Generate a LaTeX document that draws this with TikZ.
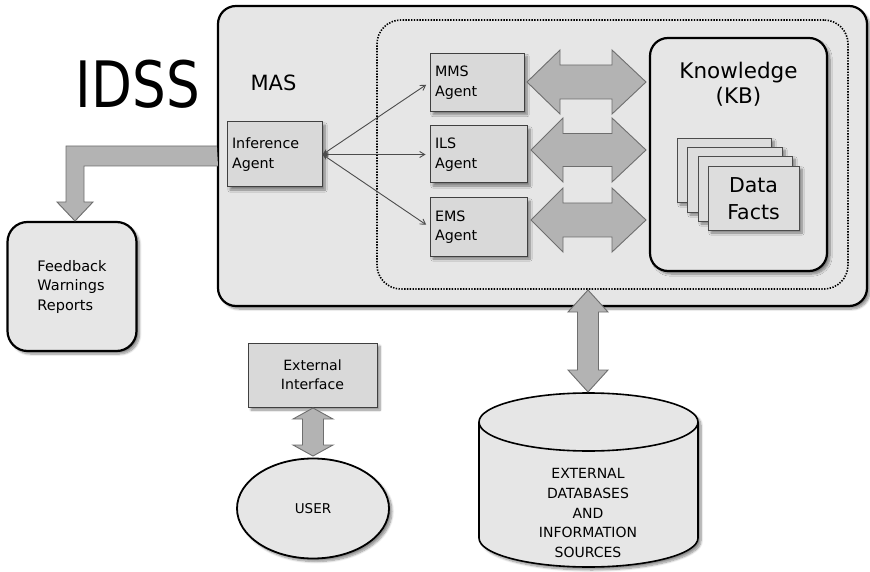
\documentclass[tikz,border=0pt]{standalone}
\usepackage{fontspec}
\setmainfont{DejaVu Sans}
\usepackage{graphicx}
\usetikzlibrary{arrows.meta,shadows.blur,shapes.geometric,calc}

\definecolor{masfill}{HTML}{E6E6E6}
\definecolor{boxfill}{HTML}{D9D9D9}
\definecolor{arrfill}{HTML}{B3B3B3}
\definecolor{arrline}{HTML}{6E6E6E}
\definecolor{pagefill}{HTML}{DDDDDD}

\tikzset{
  shadowed/.style={blur shadow={shadow xshift=3pt, shadow yshift=-3pt, shadow blur steps=8, shadow opacity=45}},
  bigbox/.style={draw=black, line width=2.2pt, rounded corners=18pt, fill=masfill, inner sep=0pt},
  agentbox/.style={draw=black!75, line width=1pt, fill=boxfill, align=left, inner xsep=5pt, inner ysep=0pt,
    font=\fontsize{14.3}{19.5}\selectfont, shadowed},
  fatarrow/.style={draw=arrline, line width=0.9pt, fill=arrfill},
  link/.style={draw=black!70, line width=0.9pt, {Stealth[length=6pt,width=5pt]}-{Straight Barb[length=5pt,width=6pt]}, shorten >=4pt},
  pagebox/.style={draw=black!70, line width=0.9pt, fill=pagefill, inner sep=0pt, shadowed},
  labeltext/.style={inner sep=0pt, align=center}
}

\newcommand\hdarrow[7]{% xtip1, xbase1, xbase2, xtip2, cy, head half, body half
  \draw[fatarrow] (#1,#5) -- (#2,#5-#6) -- (#2,#5-#7) -- (#3,#5-#7) -- (#3,#5-#6) -- (#4,#5)
    -- (#3,#5+#6) -- (#3,#5+#7) -- (#2,#5+#7) -- (#2,#5+#6) -- cycle;}
\newcommand\vdarrow[7]{% ytip1, ybase1, ybase2, ytip2, cx, head half, body half
  \draw[fatarrow] (#5,#1) -- (#5-#6,#2) -- (#5-#7,#2) -- (#5-#7,#3) -- (#5-#6,#3) -- (#5,#4)
    -- (#5+#6,#3) -- (#5+#7,#3) -- (#5+#7,#2) -- (#5+#6,#2) -- cycle;}

\begin{document}
\begin{tikzpicture}[x=1pt,y=-1pt]
\useasboundingbox (0,0) rectangle (870,572);

% IDSS title
\node (title) [inner sep=0pt] at (138,84) {\fontsize{64}{64}\selectfont\scalebox{0.83}[1]{IDSS}};

% MAS container
\node (mas) [bigbox, shadowed, minimum width=649pt, minimum height=300pt] at (542.5,156) {};
\node (mastext) [labeltext, font=\fontsize{21}{21}\selectfont] at (273.5,83) {MAS};

% dotted region
\node (region) [draw=black, line width=1.6pt, dash pattern=on 1.4pt off 1.4pt, rounded corners=24pt,
  minimum width=471pt, minimum height=269pt, inner sep=0pt] at (612.5,154.5) {};

% agents
\node (inf) [agentbox, text width=85pt, minimum height=65pt] at (274.5,154.5) {Inference\\Agent};
\node (mms) [agentbox, text width=84pt, minimum height=58pt] at (477,82.5) {MMS\\Agent};
\node (ils) [agentbox, text width=87pt, minimum height=57pt] at (478.5,154.5) {ILS\\Agent};
\node (ems) [agentbox, text width=87pt, minimum height=58pt] at (478.5,227) {EMS\\Agent};

\draw[link] (inf.east) -- (mms.west);
\draw[link] (inf.east) -- (ils.west);
\draw[link] (inf.east) -- (ems.west);

% knowledge base
\node (kb) [bigbox, shadowed, minimum width=177pt, minimum height=233pt] at (738.5,154.5) {};
\node (kbtext) [labeltext, font=\fontsize{21.5}{25}\selectfont] at (738.5,84.5) {Knowledge\\(KB)};

\node (p1) [pagebox, minimum width=94pt, minimum height=64pt] at (724,170) {};
\node (p2) [pagebox, minimum width=95pt, minimum height=65pt] at (734.5,179.5) {};
\node (p3) [pagebox, minimum width=94pt, minimum height=65pt] at (745,188.5) {};
\node (p4) [pagebox, minimum width=91pt, minimum height=64pt] at (753.5,198) {};
\node (facts) [labeltext, font=\fontsize{20.5}{27}\selectfont] at (753.5,198.5) {Data\\Facts};

% fat double arrows agent <-> KB
\hdarrow{527}{560}{612}{646}{82}{32}{17}
\hdarrow{531}{563}{612}{646}{150}{32}{16.5}
\hdarrow{531}{563}{612}{646}{220}{32}{17}

% feedback
\node (fb) [draw=black, line width=2.2pt, rounded corners=20pt, fill=masfill, shadowed,
  minimum width=129pt, minimum height=129pt, align=left, inner sep=0pt,
  font=\fontsize{14.5}{19.5}\selectfont] at (72,286.5) {Feedback\\Warnings\\Reports};
\coordinate (fbstart) at (mas.west |- 0,146);
\draw[fatarrow] (fbstart) -- (66,146) -- (66,202) -- (57,202) -- (75,221) -- (93,202) -- (84,202)
  -- (84,166) -- (218,166);

% external interface and user
\node (ext) [draw=black!75, line width=1pt, fill=boxfill, shadowed, minimum width=129pt, minimum height=64pt,
  align=center, inner sep=0pt, font=\fontsize{14.1}{19}\selectfont] at (312.5,375) {External\\Interface};
\node (user) [ellipse, draw=black, line width=1.8pt, fill=masfill, shadowed, minimum width=152pt,
  minimum height=100pt, inner sep=0pt, font=\fontsize{13.5}{16}\selectfont] at (313,508.5) {USER};
\vdarrow{408}{419}{445}{456}{313}{20}{10.5}

% external databases (cylinder)
\draw[line width=1.6pt, fill=masfill, shadowed] (479,422) -- (479,538)
  arc[start angle=180, end angle=360, x radius=109.5pt, y radius=29pt] -- (698,422)
  arc[start angle=0, end angle=180, x radius=109.5pt, y radius=29pt] -- cycle;
\draw[line width=1.6pt] (479,422) arc[start angle=180, end angle=360, x radius=109.5pt, y radius=29pt];
\node (db) [labeltext, font=\fontsize{14}{19.7}\selectfont] at (588,513) {EXTERNAL\\DATABASES\\AND\\INFORMATION\\SOURCES};
\vdarrow{290}{312}{370}{392}{588}{20}{10.5}
\end{tikzpicture}
\end{document}
